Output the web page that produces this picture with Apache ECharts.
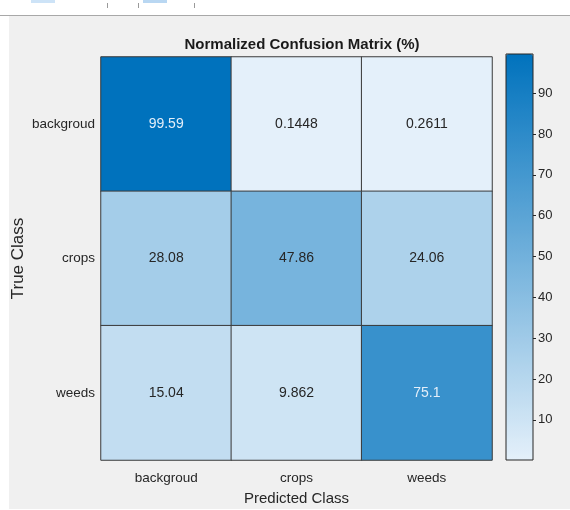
<!DOCTYPE html>
<html>
<head>
<meta charset="utf-8">
<script src="https://cdn.jsdelivr.net/npm/echarts@6/dist/echarts.min.js"></script>
<style>
  html,body{margin:0;padding:0;background:#fff;}
  #chart{width:570px;height:510px;}
</style>
</head>
<body>
<div id="chart"></div>
<script>
// class names (rows = true class, cols = predicted class)
const classes = ['backgroud', 'crops', 'weeds']
// normalized confusion matrix (%) row by row
const rowBackgroud = [99.59, 0.1448, 0.2611]
const rowCrops = [28.08, 47.86, 24.06]
const rowWeeds = [15.04, 9.862, 75.1]
const colorbarTicks = [10, 20, 30, 40, 50, 60, 70, 80, 90]

const matrix = [rowBackgroud, rowCrops, rowWeeds]
const allValues = matrix.flat()
const vMin = Math.min(...allValues)
const vMax = Math.max(...allValues)

const font = 'Liberation Sans, Arial, sans-serif'
const textDark = '#262626'

// heatmap cells: [predicted, true, value]
let cells = []
matrix.forEach((row, i) => {
  row.forEach((v, j) => {
    cells.push({
      value: [j, i, v],
      label: {color: v > 60 ? '#e3eef9' : textDark}
    })
  })
})

const chart = echarts.init(document.getElementById('chart'))
let option = {
  backgroundColor: '#ffffff',
  animation: false,
  graphic: [
    // figure panel + toolbar strip
    {type: 'rect', shape: {x: 9, y: 16, width: 561, height: 493}, style: {fill: '#f0f0f0'}, z: -10},
    {type: 'line', shape: {x1: 0, y1: 15.5, x2: 570, y2: 15.5}, style: {stroke: '#a8a8a8', lineWidth: 1}, z: -10},
    {type: 'rect', shape: {x: 31, y: 0, width: 24, height: 3}, style: {fill: '#cde3f7'}, z: -10},
    {type: 'rect', shape: {x: 143, y: 0, width: 24, height: 3}, style: {fill: '#b9d7f2'}, z: -10},
    {type: 'line', shape: {x1: 107.5, y1: 3, x2: 107.5, y2: 8}, style: {stroke: '#9a9a9a', lineWidth: 1}, z: -10},
    {type: 'line', shape: {x1: 138.5, y1: 3, x2: 138.5, y2: 8}, style: {stroke: '#9a9a9a', lineWidth: 1}, z: -10},
    {type: 'line', shape: {x1: 194.5, y1: 3, x2: 194.5, y2: 8}, style: {stroke: '#9a9a9a', lineWidth: 1}, z: -10}
  ],
  title: {
    text: 'Normalized Confusion Matrix (%)',
    left: 297,
    textAlign: 'center',
    top: 32,
    textStyle: {fontFamily: font, fontSize: 15, fontWeight: 'bold', color: '#1a1a1a'}
  },
  grid: [
    {left: 101, top: 57, width: 391, height: 403, outerBoundsMode: 'none'},
    {left: 506, top: 54, width: 27, height: 406, outerBoundsMode: 'none', show: true, backgroundColor: 'transparent', borderColor: '#262626', borderWidth: 1, z: 6}
  ],
  xAxis: [
    {
      type: 'category', gridIndex: 0, data: classes,
      name: 'Predicted Class', nameLocation: 'middle', nameGap: 31, nameMoveOverlap: false,
      nameTextStyle: {fontFamily: font, fontSize: 15, color: textDark},
      axisLine: {show: false}, axisTick: {show: false},
      axisLabel: {margin: 11, fontFamily: font, fontSize: 13.5, color: textDark},
      splitArea: {show: false}
    },
    {type: 'value', gridIndex: 1, show: false}
  ],
  yAxis: [
    {
      type: 'category', gridIndex: 0, data: classes, inverse: true,
      name: 'True Class', nameLocation: 'middle', nameGap: 74, nameRotate: 90, nameMoveOverlap: false,
      nameTextStyle: {fontFamily: font, fontSize: 17, color: textDark},
      axisLine: {show: false}, axisTick: {show: false},
      axisLabel: {margin: 6, fontFamily: font, fontSize: 13.5, color: textDark},
      splitArea: {show: false}
    },
    {
      type: 'value', gridIndex: 1, position: 'right', min: vMin, max: vMax,
      splitNumber: colorbarTicks.length + 1,
      axisLine: {show: false, onZero: false},
      axisTick: {show: true, inside: false, length: 3, lineStyle: {color: textDark}},
      axisLabel: {showMinLabel: false, showMaxLabel: false, margin: 5, fontFamily: font, fontSize: 13, color: textDark,
        formatter: v => colorbarTicks.includes(Math.round(v)) ? Math.round(v) : ''},
      splitLine: {show: false}
    }
  ],
  visualMap: {
    type: 'continuous',
    min: vMin, max: vMax,
    seriesIndex: 0,
    calculable: false,
    hoverLink: false,
    left: 506, top: 54,
    itemWidth: 27, itemHeight: 406,
    padding: 0,
    text: null,
    inRange: {color: ['#e4f0fa', '#0072bd']}
  },
  series: [
    {
      type: 'heatmap',
      xAxisIndex: 0, yAxisIndex: 0,
      data: cells,
      itemStyle: {borderColor: '#3a3a3a', borderWidth: 1},
      label: {show: true, fontFamily: font, fontSize: 14, formatter: p => String(p.value[2])},
      emphasis: {disabled: true}
    }
  ]
}
chart.setOption(option)
</script>
</body>
</html>
